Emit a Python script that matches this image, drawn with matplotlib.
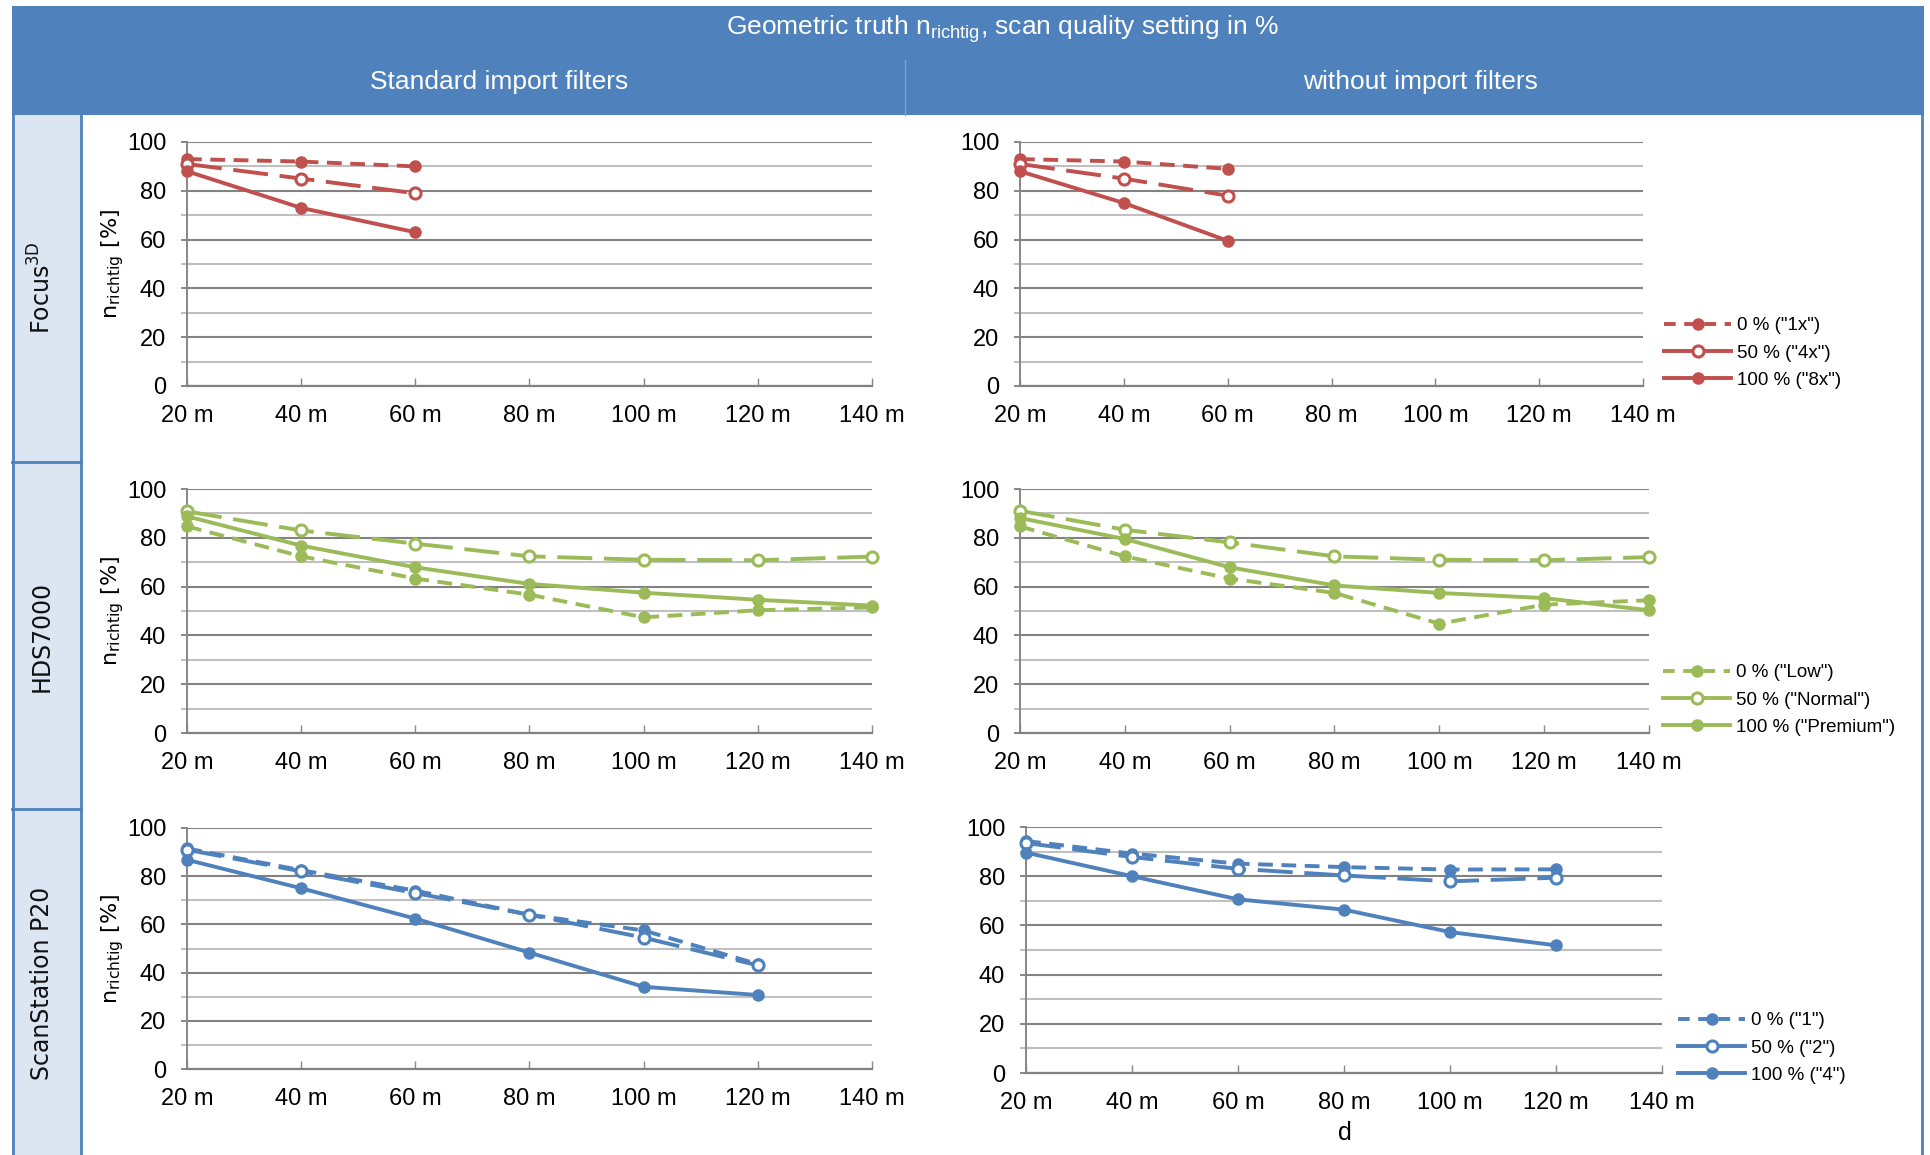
import matplotlib.pyplot as plt
from matplotlib.lines import Line2D
from matplotlib.patches import Rectangle

# distances (x categories)
distances = [20, 40, 60, 80, 100, 120, 140]
dist_labels = ['20 m', '40 m', '60 m', '80 m', '100 m', '120 m', '140 m']

# Focus3D
focus_std_0 = [93, 92, 90]
focus_std_50 = [91, 85, 79]
focus_std_100 = [88, 73, 63]
focus_raw_0 = [93, 92, 89]
focus_raw_50 = [91, 85, 78]
focus_raw_100 = [88, 75, 59.5]
focus_labels = ['0 % ("1x")', '50 % ("4x")', '100 % ("8x")']

# HDS7000
hds_std_0 = [84.7, 72.4, 63.3, 56.7, 47.4, 50.3, 51.5]
hds_std_50 = [90.8, 83, 77.6, 72.4, 71, 70.8, 72.3]
hds_std_100 = [88.8, 76.8, 67.9, 61.1, 57.5, 54.6, 52.2]
hds_raw_0 = [84.7, 72.4, 63.3, 57.4, 44.8, 52.6, 54.4]
hds_raw_50 = [91.1, 83.3, 78.1, 72.4, 71, 70.8, 72.1]
hds_raw_100 = [88.1, 79.5, 67.9, 60.5, 57.4, 55.3, 50.3]
hds_labels = ['0 % ("Low")', '50 % ("Normal")', '100 % ("Premium")']

# ScanStation P20
p20_std_0 = [91.5, 82.5, 74, 64, 57.5, 43.5]
p20_std_50 = [91, 82, 73, 64, 54.5, 43]
p20_std_100 = [86.8, 75, 62.4, 48.3, 34.1, 30.7]
p20_raw_0 = [94.3, 89.2, 85.1, 83.7, 82.7, 82.8]
p20_raw_50 = [93.5, 87.8, 83, 80.3, 77.9, 79.4]
p20_raw_100 = [89.6, 80, 70.6, 66.4, 57.3, 51.9]
p20_labels = ['0 % ("1")', '50 % ("2")', '100 % ("4")']

row_names = ['Focus$^{\\mathregular{3D}}$', 'HDS7000', 'ScanStation P20']
row_colors = ['#c0504d', '#9bbb59', '#4f81bd']

W, H = 1931, 1155
HEAD = '#4f81bd'
LW = 2.8
MS = 8

plt.rcParams['font.family'] = ['Liberation Sans', 'DejaVu Sans']
plt.rcParams['mathtext.fontset'] = 'custom'
plt.rcParams['mathtext.rm'] = 'Liberation Sans'

fig = plt.figure(figsize=(W / 100, H / 100), dpi=100)


def fx(x):
    return x / W


def fy(y):
    return 1 - y / H


def rect(x0, y0, x1, y1, **kw):
    fig.add_artist(Rectangle((fx(x0), fy(y1)), (x1 - x0) / W, (y1 - y0) / H,
                             transform=fig.transFigure, **kw))


def vline(x, y0, y1, **kw):
    fig.add_artist(Line2D([fx(x), fx(x)], [fy(y0), fy(y1)], transform=fig.transFigure, **kw))


def hline(y, x0, x1, **kw):
    fig.add_artist(Line2D([fx(x0), fx(x1)], [fy(y), fy(y)], transform=fig.transFigure, **kw))


# header + row-label column
rect(12, 6, 1924, 115, facecolor=HEAD, edgecolor='none')
vline(905, 60, 115, color='#7fa3d0', lw=1)
rect(12, 115, 81, 1155, facecolor='#dce6f2', edgecolor='none')
vline(13, 115, 1155, color=HEAD, lw=2)
vline(81, 115, 1155, color=HEAD, lw=2)
vline(1922, 115, 1155, color=HEAD, lw=2)
hline(462, 12, 81, color=HEAD, lw=2)
hline(809, 12, 81, color=HEAD, lw=2)

fig.text(fx(1002), fy(29), 'Geometric truth n$_{\\mathregular{richtig}}$, scan quality setting in %',
         color='white', fontsize=19, ha='center', va='center')
fig.text(fx(499), fy(82), 'Standard import filters', color='white', fontsize=19, ha='center', va='center')
fig.text(fx(1420), fy(82), 'without import filters', color='white', fontsize=19, ha='center', va='center')

row_centers = [288, 636, 983]
for name, yc in zip(row_names, row_centers):
    fig.text(fx(42), fy(yc), name, rotation=90, fontsize=17, ha='center', va='center',
             family='DejaVu Sans', color='#111111')

panels = [
    [(187, 142, 872, 386), (1020, 142, 1643, 386)],
    [(187, 489, 872, 733), (1020, 489, 1649, 733)],
    [(187, 828, 872, 1069), (1026, 827, 1662, 1073)],
]
data = [
    [(focus_std_0, focus_std_50, focus_std_100), (focus_raw_0, focus_raw_50, focus_raw_100)],
    [(hds_std_0, hds_std_50, hds_std_100), (hds_raw_0, hds_raw_50, hds_raw_100)],
    [(p20_std_0, p20_std_50, p20_std_100), (p20_raw_0, p20_raw_50, p20_raw_100)],
]
legend_labels = [focus_labels, hds_labels, p20_labels]
legend_pos = [(1664, 353), (1663, 700), (1678, 1048)]

short_dash = (0, (3.8, 2.2))
long_dash = (0, (9, 3))

for r in range(3):
    c = row_colors[r]
    for col in range(2):
        x0, y0, x1, y1 = panels[r][col]
        ax = fig.add_axes([fx(x0), fy(y1), (x1 - x0) / W, (y1 - y0) / H])
        s0, s50, s100 = data[r][col]
        ax.plot(distances[:len(s0)], s0, color=c, lw=LW, ls=short_dash, marker='o', ms=MS,
                clip_on=False, zorder=3)
        ax.plot(distances[:len(s50)], s50, color=c, lw=LW, ls=long_dash, marker='o', ms=MS,
                mfc='white', mew=2.2, clip_on=False, zorder=3)
        ax.plot(distances[:len(s100)], s100, color=c, lw=LW, marker='o', ms=MS,
                clip_on=False, zorder=3)

        ax.set_xlim(20, 140)
        ax.set_ylim(0, 100)
        ax.set_xticks(distances)
        ax.set_xticklabels(dist_labels)
        ax.set_yticks(range(0, 101, 20))
        ax.set_yticks(range(10, 100, 20), minor=True)
        ax.grid(which='major', axis='y', color='#828282', lw=1.5)
        ax.grid(which='minor', axis='y', color='#c0c0c0', lw=1.5)
        ax.set_axisbelow(True)
        for sp in ['top', 'right']:
            ax.spines[sp].set_visible(False)
        ax.spines['left'].set_color('#878787')
        ax.spines['bottom'].set_color('#828282')
        ax.spines['left'].set_linewidth(1.4)
        ax.spines['bottom'].set_linewidth(1.6)
        ax.tick_params(axis='x', direction='in', length=6, width=1, color='#878787',
                       labelsize=17, pad=14)
        ax.tick_params(axis='y', which='both', direction='out', length=4, width=1.4,
                       color='#878787', labelsize=17, pad=11)
        ax.tick_params(axis='y', which='minor', length=4, color='#c0c0c0')
        ax.set_facecolor('none')

        if col == 0:
            fig.text(fx(113), fy((y0 + y1) / 2), 'n$_{\\mathregular{richtig}}$ [%]', rotation=90,
                     fontsize=16, ha='center', va='center', family='DejaVu Sans')
        else:
            handles = [
                Line2D([], [], color=c, lw=LW, ls=(0, (3, 2.2)), marker='o', ms=MS),
                Line2D([], [], color=c, lw=LW, marker='o', ms=MS, mfc='white', mew=2.2),
                Line2D([], [], color=c, lw=LW, marker='o', ms=MS),
            ]
            lx, ly = legend_pos[r]
            ax.legend(handles, legend_labels[r], loc='center left', bbox_to_anchor=(fx(lx), fy(ly)),
                      bbox_transform=fig.transFigure, frameon=False, fontsize=13.5,
                      handlelength=3.6, handletextpad=0.3, labelspacing=0.55, borderpad=0,
                      borderaxespad=0)

fig.text(fx(1345), fy(1133), 'd', fontsize=18, ha='center', va='center')

plt.savefig('out.png', dpi=100)
